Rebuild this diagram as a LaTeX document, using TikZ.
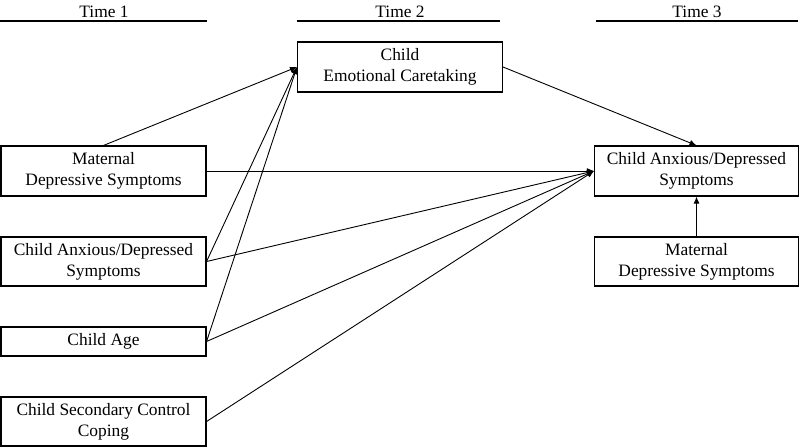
\documentclass[tikz,border=0pt]{standalone}
\usepackage{fontspec}
\setmainfont{Liberation Serif}
\usetikzlibrary{arrows.meta}
\begin{document}
\begin{tikzpicture}[x=1pt,y=-1pt,
  box/.style={draw,line width=1.1pt,inner sep=0pt,align=center,
    font=\fontsize{17.4}{21}\selectfont,minimum width=#1},
  box/.default=205pt,
  arr/.style={line width=0.9pt,-{Latex[length=7pt,width=6pt]}},
  hdr/.style={font=\fontsize{17.4}{21}\selectfont,inner sep=0pt},
  rule/.style={line width=1.2pt}]
\useasboundingbox (0,0) rectangle (800,447);
% headers
\node[hdr] (t1) at (104,12) {Time 1};
\node[hdr] (t2) at (400,12) {Time 2};
\node[hdr] (t3) at (697,12) {Time 3};
\draw[rule] (0,21) -- (207,21);
\draw[rule] (297,21) -- (500,21);
\draw[rule] (596,21) -- (798,21);
% boxes
\node[box=205pt,minimum height=50pt] (care) at (400,67) {Child\\Emotional Caretaking};
\node[box=205pt,minimum height=50pt] (mat1) at (103.5,171) {Maternal\\Depressive Symptoms};
\node[box=205pt,minimum height=49pt] (cad1) at (103.5,261.5) {Child Anxious/Depressed\\Symptoms};
\node[box=205pt,minimum height=29pt] (age) at (103.5,341.5) {Child Age};
\node[box=205pt,minimum height=49pt] (cop) at (103.5,421.5) {Child Secondary Control\\Coping};
\node[box=204pt,minimum height=50pt] (cad3) at (696.5,171) {Child Anxious/Depressed\\Symptoms};
\node[box=204pt,minimum height=49pt] (mat3) at (696.5,261.5) {Maternal\\Depressive Symptoms};
% arrows to caretaking
\draw[arr] (mat1.north) -- (care.west);
\draw[arr] (cad1.east) -- (care.west);
\draw[arr] (age.east) -- (care.west);
% arrows to child anx T3
\draw[arr] (care.east) -- (cad3.north);
\draw[arr] (mat1.east) -- (cad3.west);
\draw[arr] (cad1.east) -- (cad3.west);
\draw[arr] (age.east) -- (cad3.west);
\draw[arr] (cop.east) -- (cad3.west);
\draw[arr] (mat3.north) -- (cad3.south);
\end{tikzpicture}
\end{document}
